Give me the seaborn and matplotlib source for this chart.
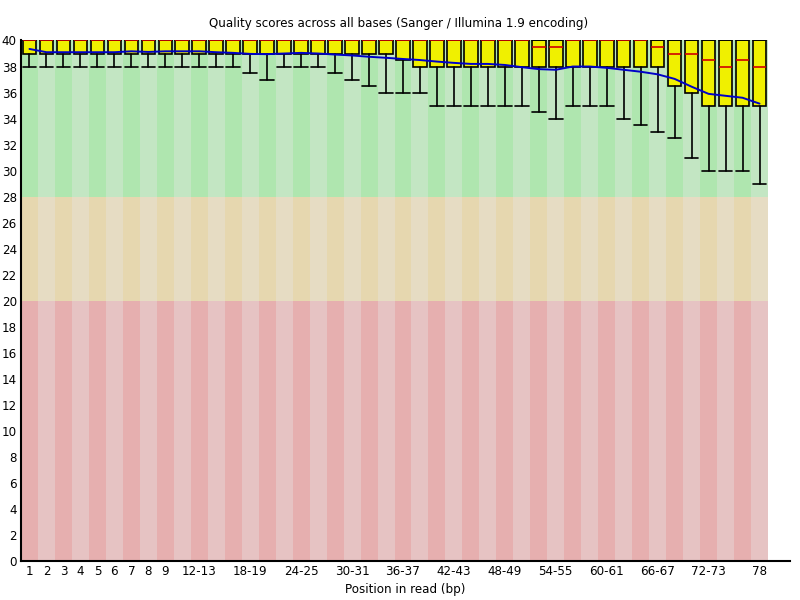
import matplotlib
matplotlib.use('Agg')
import pandas as pd
import matplotlib.pyplot as plt
import seaborn as sns

# Per-base quality (FastQC style), one entry per position group
positions = ['1', '2', '3', '4', '5', '6', '7', '8', '9',
             '10-11', '12-13', '14-15', '16-17', '18-19', '20-21', '22-23',
             '24-25', '26-27', '28-29', '30-31', '32-33', '34-35', '36-37',
             '38-39', '40-41', '42-43', '44-45', '46-47', '48-49', '50-51',
             '52-53', '54-55', '56-57', '58-59', '60-61', '62-63', '64-65',
             '66-67', '68-69', '70-71', '72-73', '74-75', '76-77', '78']

pct_10 = [38, 38, 38, 38, 38, 38, 38, 38, 38, 38, 38, 38, 38, 37.5, 37,
          38, 38, 38, 37.5, 37, 36.5, 36, 36, 36, 35, 35, 35, 35, 35, 35,
          34.5, 34, 35, 35, 35, 34, 33.5, 33, 32.5, 31, 30, 30, 30, 29]
lower_q = [39, 39, 39, 39, 39, 39, 39, 39, 39, 39, 39, 39, 39, 39, 39,
           39, 39, 39, 39, 39, 39, 39, 38.5, 38, 38, 38, 38, 38, 38, 38,
           38, 38, 38, 38, 38, 38, 38, 38, 36.5, 36, 35, 35, 35, 35]
median = [40, 40, 40, 40, 40, 40, 40, 40, 40, 40, 40, 40, 40, 40, 40,
          40, 40, 40, 40, 40, 40, 40, 40, 40, 40, 40, 40, 40, 40, 40,
          39.5, 39.5, 40, 40, 40, 40, 40, 39.5, 39, 39, 38.5, 38, 38.5, 38]
upper_q = [40] * 44
pct_90 = [40] * 44
mean_q = [39.35, 39.1, 39.1, 39.1, 39.1, 39.1, 39.17, 39.12, 39.17, 39.17,
          39.17, 39.1, 39.05, 38.97, 38.95, 39.0, 39.05, 39.0, 38.92, 38.85,
          38.75, 38.67, 38.58, 38.5, 38.38, 38.28, 38.2, 38.2, 38.12, 37.95,
          37.8, 37.75, 38.0, 38.0, 37.9, 37.75, 37.6, 37.4, 37.05, 36.45,
          35.9, 35.75, 35.6, 35.15]

shown_labels = ['1', '2', '3', '4', '5', '6', '7', '8', '9', '12-13', '18-19',
                '24-25', '30-31', '36-37', '42-43', '48-49', '54-55', '60-61',
                '66-67', '72-73', '78']

# quality zones: bad / warn / good
zone_bottom = [0, 20, 28]
zone_top = [20, 28, 40]
zone_light = ['#e6c3c3', '#e6dcc3', '#c3e6c3']
zone_dark = ['#e6afaf', '#e6d7af', '#afe6af']

df = pd.DataFrame({'pos': positions, 'p10': pct_10, 'q1': lower_q,
                   'med': median, 'q3': upper_q, 'p90': pct_90,
                   'mean': mean_q})
df['x'] = range(len(df))

sns.set_style('white')
plt.rcParams['font.family'] = ['DejaVu Sans']
FS = 8.6

fig = plt.figure(figsize=(8, 6), dpi=100)
ax = fig.add_axes([21 / 800, 39 / 600, 769 / 800, 520.5 / 600])

col_w = (768 - 21) / 44

# striped background
for b, t, cl, cd in zip(zone_bottom, zone_top, zone_light, zone_dark):
    colors = [cd if i % 2 == 0 else cl for i in df['x']]
    ax.bar(df['x'], t - b, bottom=b, width=1.0, color=colors,
           linewidth=0, zorder=0)

# boxes from precomputed stats
stats = [dict(med=r.med, q1=r.q1, q3=r.q3, whislo=r.p10, whishi=r.p90,
              label=r.pos) for r in df.itertuples()]
ax.bxp(stats, positions=df['x'], widths=0.8, capwidths=0.8,
       showfliers=False, patch_artist=True, manage_ticks=False,
       boxprops=dict(facecolor='#f0f000', edgecolor='black', linewidth=1.2),
       medianprops=dict(color='#d00000', linewidth=1.2),
       whiskerprops=dict(color='black', linewidth=1.2),
       capprops=dict(color='black', linewidth=1.2), zorder=2)

# mean line
sns.lineplot(data=df, x='x', y='mean', color='#0000c8', linewidth=1.4,
             ax=ax, zorder=3)

ax.set_xlim(-0.5, -0.5 + 769 / col_w)
ax.set_ylim(0, 40)
ax.set_yticks(range(0, 41, 2))
ax.set_yticklabels([str(v) for v in range(0, 41, 2)], fontsize=FS)
tick_pos = [positions.index(l) for l in shown_labels]
ax.set_xticks(tick_pos)
ax.set_xticklabels(shown_labels, fontsize=FS)
ax.tick_params(length=0, pad=3, labelcolor='black')
ax.set_xlabel('')
ax.set_ylabel('')
ax.grid(False)

sns.despine(ax=ax)
for side in ['left', 'bottom']:
    ax.spines[side].set_color('black')
    ax.spines[side].set_linewidth(1.5)

fig.text(0.498, 1 - 23 / 600,
         'Quality scores across all bases (Sanger / Illumina 1.9 encoding)',
         ha='center', va='center', fontsize=FS, color='black')
fig.text(405 / 800, 1 - 590 / 600, 'Position in read (bp)',
         ha='center', va='center', fontsize=FS, color='black')

fig.savefig('out.png', dpi=100)
